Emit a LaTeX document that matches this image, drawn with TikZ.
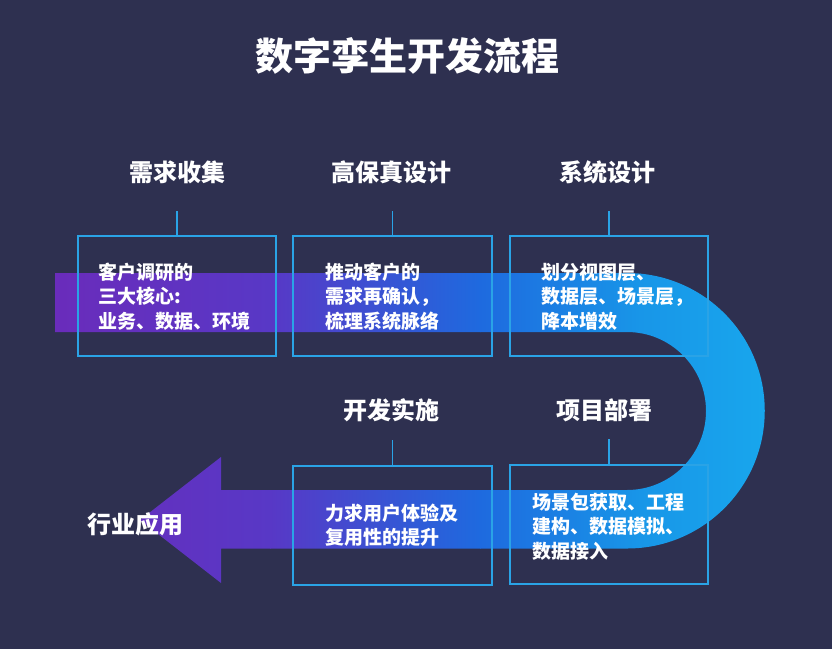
\documentclass[tikz,border=0pt]{standalone}
\usepackage{fontspec}
\setmainfont{Noto Sans CJK SC}
\definecolor{bg}{HTML}{2E3050}
\definecolor{boxc}{HTML}{2AA3E6}
\definecolor{c1}{HTML}{6B2BBA}
\definecolor{c2}{HTML}{5838C6}
\definecolor{c3}{HTML}{1E6ADF}
\definecolor{c4}{HTML}{1896E8}
\definecolor{c5}{HTML}{18ABEE}
\begin{document}
\begin{tikzpicture}[x=1pt,y=1pt,
  titletext/.style={text=white, font=\fontsize{38}{44}\selectfont\bfseries, inner sep=0},
  heading/.style={text=white, font=\fontsize{24}{28}\selectfont\bfseries, inner sep=0},
  body/.style={text=white, font=\fontsize{19}{24.5}\selectfont\bfseries, align=left, anchor=west, inner sep=0},
  stagebox/.style={draw=boxc, line width=1.6pt, minimum width=198pt, minimum height=120pt, inner sep=0},
  tick/.style={draw=boxc, line width=1.6pt}]
\fill[bg] (0,0) rectangle (832,-649);
\useasboundingbox (0,0) rectangle (832,-649);
\def\bandpath{(55,-273) -- (627,-273) arc[start angle=90,end angle=-90,radius=137.75] -- (221,-548.5) -- (221,-583) -- (140,-520) -- (221,-457) -- (221,-490) -- (627,-490) arc[start angle=-90,end angle=90,radius=79] -- (55,-332) -- cycle}
\begin{scope}
\clip \bandpath;
\shade[left color=c1, right color=c2] (40,-250) rectangle (270.5,-610);
\shade[left color=c2, right color=c3] (270,-250) rectangle (480.5,-610);
\shade[left color=c3, right color=c4] (480,-250) rectangle (640.5,-610);
\shade[left color=c4, right color=c5] (640,-250) rectangle (800,-610);
\end{scope}
\node[titletext] (title) at (407,-56) {数字孪生开发流程};
\node[heading] (h1) at (177,-172) {需求收集};
\node[heading] (h2) at (391,-172) {高保真设计};
\node[heading] (h3) at (607,-172) {系统设计};
\node[heading] (h4) at (391,-410) {开发实施};
\node[heading] (h5) at (604,-410) {项目部署};
\node[heading] (h6) at (135,-524) {行业应用};
\node[stagebox] (b1) at (177,-296) {};
\node[stagebox, minimum width=199pt] (b2) at (392.5,-296) {};
\node[stagebox] (b3) at (609,-296) {};
\node[stagebox, minimum width=199pt, minimum height=119pt] (b4) at (392.5,-525.5) {};
\node[stagebox, minimum height=119pt] (b5) at (609,-524.5) {};
\draw[tick] (b1.north) -- ++(0,24);
\draw[tick] (b2.north) -- ++(0,24);
\draw[tick] (b3.north) -- ++(0,24);
\draw[tick] (b4.north) -- ++(0,25);
\draw[tick] (b5.north) -- ++(0,25);
\node[body] (t1) at (98,-296.5) {客户调研的\\三大核心:\\业务、数据、环境};
\node[body] (t2) at (325,-296.5) {推动客户的\\需求再确认，\\梳理系统脉络};
\node[body] (t3) at (541,-296.5) {划分视图层、\\数据层、场景层，\\降本增效};
\node[body] (t4) at (325,-525) {力求用户体验及\\复用性的提升};
\node[body] (t5) at (532,-526.5) {场景包获取、工程\\建构、数据模拟、\\数据接入};
\end{tikzpicture}
\end{document}
